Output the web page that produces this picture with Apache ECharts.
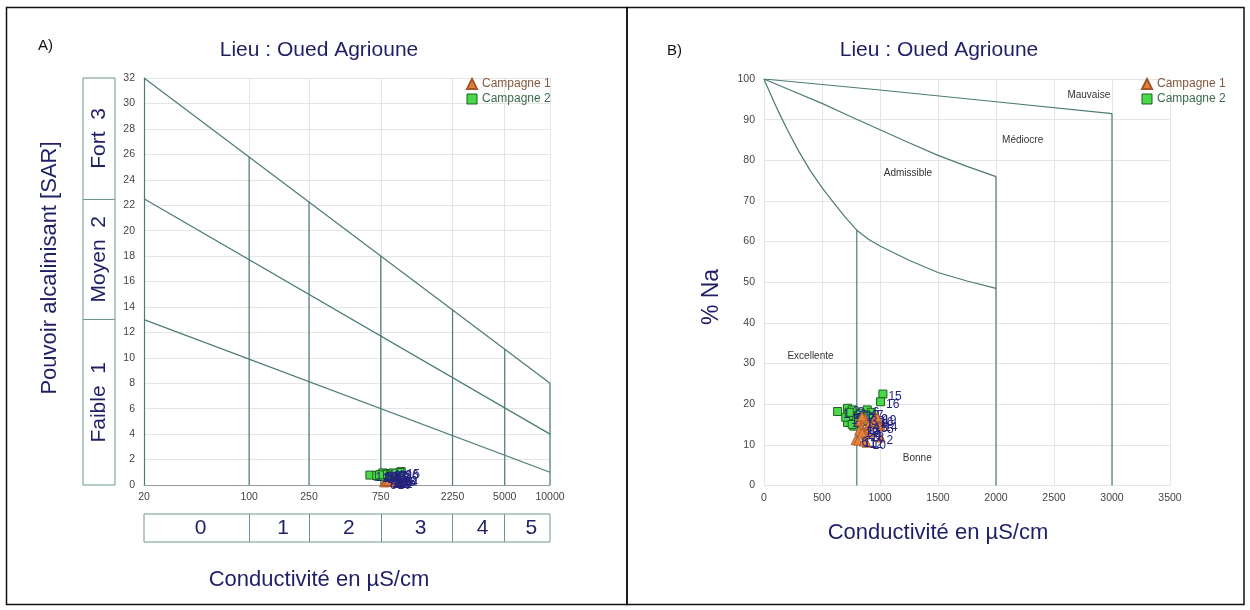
<!DOCTYPE html>
<html><head><meta charset="utf-8">
<script src="https://cdn.jsdelivr.net/npm/echarts@6/dist/echarts.min.js"></script>
<style>html,body{margin:0;padding:0;background:#fff}#c{width:1250px;height:610px}</style>
</head><body><div id="c"></div>
<script>
// ---------- DATA ----------
const titleText = 'Lieu : Oued Agrioune';
const xTitle = 'Conductivité en µS/cm';
const yTitleA = 'Pouvoir alcalinisant [SAR]';
const yTitleB = '% Na';
const seriesNames = ['Campagne 1', 'Campagne 2'];

// Panel A (Richards / SAR diagram)
const ecTicksA = [20, 100, 250, 750, 2250, 5000, 10000];
const sarLine1 = [[20, 32], [10000, 8]];
const sarLine2 = [[20, 22.5], [10000, 4]];
const sarLine3 = [[20, 13], [10000, 1]];
const ecBounds = [100, 250, 750, 2250, 5000, 10000];
const ecBoundTops = [25.8, 22.3, 18.0, 13.8, 10.7, 8];
const ecClassLabels = ['0', '1', '2', '3', '4', '5'];
const ecClassEdges = [20, 100, 250, 750, 2250, 5000, 10000];
const sarClassLabels = ['Faible  1', 'Moyen  2', 'Fort  3'];
const sarClassEdges = [0, 13, 22.5, 32];

// Panel B (Wilcox diagram)
const naTop = [[0, 100], [1000, 97.3], [2000, 94.4], [3000, 91.5]];
const naMid = [[0, 100], [250, 97], [500, 94], [750, 90.7], [1000, 87.5], [1250, 84.3], [1500, 81.2], [1750, 78.5], [2000, 76]];
const naLow = [[0, 100], [50, 96.7], [100, 93.5], [150, 90.5], [200, 87.6], [300, 82.2], [400, 77.4], [500, 73.3], [600, 69.6], [700, 66], [800, 62.8], [900, 60.6], [1000, 58.9], [1250, 55.4], [1500, 52.4], [1750, 50.3], [2000, 48.5]];
const naVerticals = [[800, 62.8], [2000, 76], [3000, 91.5]];
const zoneNames = ['Excellente', 'Bonne', 'Admissible', 'Médiocre', 'Mauvaise'];
const zoneEC = [401, 1321, 1241, 2230, 2800];
const zoneNa = [31.9, 6.7, 76.9, 84.9, 96];

// Samples
const c1Id = [1,2,3,4,5,6,7,8,9,10,11,12,13,14,15,16,17,18,19,20];
const c1EC = [830, 1005, 870, 905, 1010, 790, 845, 880, 960, 885, 810, 860, 835, 985, 900, 950, 820, 870, 975, 845];
const c1Na = [15.8, 11.8, 16.5, 13.0, 14.5, 11.2, 17.0, 13.8, 15.6, 10.5, 11.0, 10.8, 14.2, 15.0, 14.8, 16.2, 13.5, 12.5, 16.8, 13.0];
const c1SAR = [0.32, 0.28, 0.40, 0.25, 0.45, 0.20, 0.38, 0.30, 0.42, 0.22, 0.26, 0.24, 0.35, 0.40, 0.36, 0.44, 0.30, 0.27, 0.46, 0.33];

const c2Id = [1,2,3,4,5,6,7,8,9,10,11,12,13,14,15,16,17,18,19,20];
const c2EC = [635, 720, 760, 720, 745, 890, 925, 800, 850, 880, 775, 705, 830, 760, 1025, 1005, 815, 870, 905, 735];
const c2Na = [18.2, 19.0, 18.6, 15.5, 17.2, 18.6, 18.0, 16.2, 17.2, 16.5, 14.6, 16.8, 17.8, 15.0, 22.5, 20.6, 15.8, 16.0, 17.0, 18.0];
const c2SAR = [0.78, 0.72, 0.85, 0.70, 0.82, 0.92, 0.88, 0.80, 0.90, 0.76, 0.95, 0.74, 0.86, 0.68, 1.05, 0.98, 0.84, 0.78, 0.94, 0.80];

// ---------- STYLE ----------
const FONT = '"Liberation Sans", Arial, sans-serif';
const LINE = '#4c7a76';
const GRIDC = '#e4e6e6';
const NAVY = '#1f1f66';
const TICKC = '#444';
const BOXC = '#6c9790';
const LBL = '#24247e';
const CLEAR = {color: 'rgba(0,0,0,0)', opacity: 1};

const chart = echarts.init(document.getElementById('c'), null, {renderer: 'canvas'});

const lineStyle = {color: LINE, width: 1.2};
const series = [];

// Panel A lines
[sarLine1, sarLine2, sarLine3].forEach((d, i) => {
  const s = {type: 'line', xAxisIndex: 0, yAxisIndex: 0, data: d, symbol: 'none', lineStyle, silent: true, z: 3};
  if (i === 0) {
    s.markLine = {silent: true, symbol: 'none', label: {show: false},
      lineStyle: {color: GRIDC, width: 1, type: 'solid'},
      data: ecBounds.map(v => ({xAxis: v})), z: 1};
  }
  series.push(s);
});
ecBounds.forEach((b, i) => {
  series.push({type: 'line', xAxisIndex: 0, yAxisIndex: 0, data: [[b, 0], [b, ecBoundTops[i]]],
    symbol: 'none', lineStyle, silent: true, z: 3});
});

// Panel B curves
[naTop, naMid, naLow].forEach(d => {
  series.push({type: 'line', xAxisIndex: 1, yAxisIndex: 1, data: d, symbol: 'none', lineStyle,
    smooth: false, silent: true, z: 3});
});
naVerticals.forEach(p => {
  series.push({type: 'line', xAxisIndex: 1, yAxisIndex: 1, data: [[p[0], 0], [p[0], p[1]]],
    symbol: 'none', lineStyle, silent: true, z: 3});
});
series.push({type: 'scatter', xAxisIndex: 1, yAxisIndex: 1, silent: true, symbolSize: 1,
  itemStyle: CLEAR,
  data: zoneNames.map((n, i) => ({value: [zoneEC[i], zoneNa[i]], name: n})),
  label: {show: true, position: 'inside', formatter: p => p.name, color: '#333', fontSize: 10, fontFamily: FONT, textBorderWidth: 0}, z: 4});

// samples
const triStyle = {color: '#e5813c', borderColor: '#a4552a', borderWidth: 0.8, opacity: 1};
const sqStyle = {color: '#48d848', borderColor: '#1f5f24', borderWidth: 1, opacity: 1};
const ptLabel = {show: true, position: 'right', distance: 1, offset: [0, 3], color: LBL, fontSize: 12, fontFamily: FONT, formatter: p => p.value[2]};

series.push({name: seriesNames[0], type: 'scatter', xAxisIndex: 0, yAxisIndex: 0, symbol: 'triangle', symbolSize: 9,
  itemStyle: triStyle, label: ptLabel, data: c1EC.map((x, i) => [x, c1SAR[i], c1Id[i]]), z: 5});
series.push({name: seriesNames[1], type: 'scatter', xAxisIndex: 0, yAxisIndex: 0, symbol: 'rect', symbolSize: 8,
  itemStyle: sqStyle, label: ptLabel, data: c2EC.map((x, i) => [x, c2SAR[i], c2Id[i]]), z: 6});
series.push({name: seriesNames[1], type: 'scatter', xAxisIndex: 1, yAxisIndex: 1, symbol: 'rect', symbolSize: 8,
  itemStyle: sqStyle, label: ptLabel, data: c2EC.map((x, i) => [x, c2Na[i], c2Id[i]]), z: 5});
series.push({name: seriesNames[0], type: 'scatter', xAxisIndex: 1, yAxisIndex: 1, symbol: 'triangle', symbolSize: 9,
  itemStyle: triStyle, label: ptLabel, data: c1EC.map((x, i) => [x, c1Na[i], c1Id[i]]), z: 6});

// class boxes
series.push({type: 'scatter', xAxisIndex: 2, yAxisIndex: 2, silent: true, symbolSize: 1,
  itemStyle: CLEAR,
  data: ecClassLabels.map((n, i) => ({value: [Math.sqrt(ecClassEdges[i] * ecClassEdges[i + 1]), 0.5], name: n})),
  label: {show: true, position: 'inside', offset: [4, 0], formatter: p => p.name, color: NAVY, fontSize: 21, fontFamily: FONT, textBorderWidth: 0},
  markLine: {silent: true, symbol: 'none', label: {show: false}, lineStyle: {color: BOXC, width: 1, type: 'solid'},
    data: ecClassEdges.slice(1, -1).map(v => ({xAxis: v}))}});
series.push({type: 'scatter', xAxisIndex: 3, yAxisIndex: 3, silent: true, symbolSize: 1,
  itemStyle: CLEAR,
  data: sarClassLabels.map((n, i) => ({value: [0.5, (sarClassEdges[i] + sarClassEdges[i + 1]) / 2], name: n})),
  label: {show: true, position: 'inside', rotate: 90, formatter: p => p.name, color: NAVY, fontSize: 21, fontFamily: FONT, textBorderWidth: 0},
  markLine: {silent: true, symbol: 'none', label: {show: false}, lineStyle: {color: BOXC, width: 1, type: 'solid'},
    data: sarClassEdges.slice(1, -1).map(v => ({yAxis: v}))}});

const plainNum = v => String(v);
const tickLabel = {color: TICKC, fontSize: 10.5, fontFamily: FONT, formatter: plainNum};

const legendData = [
  {name: seriesNames[0], icon: 'triangle', itemStyle: {color: '#e5813c'}, textStyle: {color: '#85583c'}},
  {name: seriesNames[1], icon: 'rect', itemStyle: {color: '#48d848', borderColor: '#1f5f24', borderWidth: 1}, textStyle: {color: '#3b6b4b'}}
];

function txt(x, y, text, size, color, rot) {
  return {type: 'text', x, y, rotation: rot || 0, silent: true,
    style: {text, fill: color, font: size + 'px ' + FONT, textAlign: 'center', textVerticalAlign: 'middle'}};
}

const option = {
  animation: false,
  backgroundColor: '#fff',
  grid: [
    {left: 144, top: 78, width: 406, height: 407},
    {left: 764, top: 79, width: 406, height: 406.5},
    {left: 144, top: 514, width: 406, height: 28, show: true, borderColor: BOXC, borderWidth: 1, backgroundColor: 'transparent'},
    {left: 83, top: 78, width: 32, height: 407, show: true, borderColor: BOXC, borderWidth: 1, backgroundColor: 'transparent'}
  ],
  xAxis: [
    {gridIndex: 0, type: 'log', logBase: 10, min: 20, max: 10000,
      axisLine: {show: true, lineStyle: {color: '#9a9a9a'}}, axisTick: {show: false},
      axisLabel: Object.assign({customValues: ecTicksA, margin: 7}, tickLabel), splitLine: {show: false}},
    {gridIndex: 1, type: 'value', min: 0, max: 3500, interval: 500,
      axisLine: {show: false}, axisTick: {show: false},
      axisLabel: Object.assign({margin: 7}, tickLabel), splitLine: {show: true, lineStyle: {color: GRIDC}}},
    {gridIndex: 2, type: 'log', logBase: 10, min: 20, max: 10000, show: false},
    {gridIndex: 3, type: 'value', min: 0, max: 1, show: false}
  ],
  yAxis: [
    {gridIndex: 0, type: 'value', min: 0, max: 32, interval: 2,
      axisLine: {show: true, lineStyle: {color: LINE, width: 1.2}}, axisTick: {show: false},
      axisLabel: Object.assign({margin: 9}, tickLabel), splitLine: {show: true, lineStyle: {color: GRIDC}}},
    {gridIndex: 1, type: 'value', min: 0, max: 100, interval: 10,
      axisLine: {show: false}, axisTick: {show: false},
      axisLabel: Object.assign({margin: 9}, tickLabel), splitLine: {show: true, lineStyle: {color: GRIDC}}},
    {gridIndex: 2, type: 'value', min: 0, max: 1, show: false},
    {gridIndex: 3, type: 'value', min: 0, max: 32, show: false}
  ],
  legend: [
    {orient: 'vertical', left: 461, top: 73, itemWidth: 10, itemHeight: 10, itemGap: 3, selectedMode: false,
      textStyle: {fontSize: 12, fontFamily: FONT}, data: legendData},
    {orient: 'vertical', left: 1136, top: 73, itemWidth: 10, itemHeight: 10, itemGap: 3, selectedMode: false,
      textStyle: {fontSize: 12, fontFamily: FONT}, data: legendData}
  ],
  series,
  graphic: [
    {type: 'rect', silent: true, shape: {x: 6.5, y: 7.5, width: 620.5, height: 597}, style: {fill: 'none', stroke: '#111', lineWidth: 1.5}},
    {type: 'rect', silent: true, shape: {x: 627, y: 7.5, width: 617, height: 597}, style: {fill: 'none', stroke: '#111', lineWidth: 1.5}},
    {type: 'text', x: 38, y: 46, silent: true, style: {text: 'A)', fill: '#111', font: '15px ' + FONT, textVerticalAlign: 'middle'}},
    {type: 'text', x: 667, y: 51, silent: true, style: {text: 'B)', fill: '#111', font: '15px ' + FONT, textVerticalAlign: 'middle'}},
    txt(319, 50, titleText, 21, NAVY),
    txt(939, 50, titleText, 21, NAVY),
    txt(319, 580, xTitle, 22, NAVY),
    txt(938, 533, xTitle, 22, NAVY),
    txt(50, 268, yTitleA, 22, NAVY, Math.PI / 2),
    txt(712, 297, yTitleB, 23, NAVY, Math.PI / 2)
  ]
};
chart.setOption(option);
</script>
</body></html>
